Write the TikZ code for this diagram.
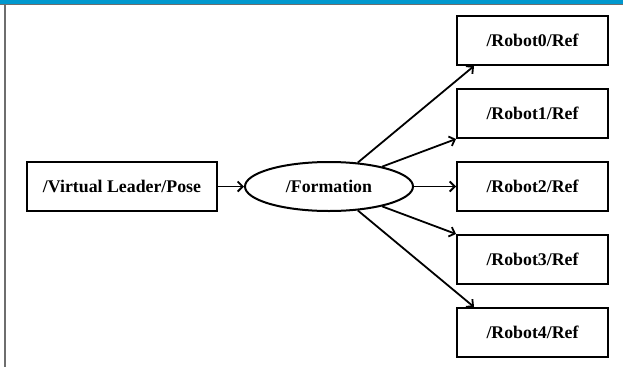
\documentclass[tikz,border=0pt]{standalone}
\usepackage{fontspec}
\setmainfont{Liberation Serif}
\usetikzlibrary{arrows.meta, calc, shapes.geometric}
\definecolor{barblue}{RGB}{0,152,206}
\definecolor{framegray}{RGB}{110,110,110}

\begin{document}
\begin{tikzpicture}[
  x=1pt, y=-1pt,
  every node/.style={font=\fontsize{17.8}{21}\selectfont\bfseries},
  topic/.style={draw, line width=2pt, minimum width=151pt, minimum height=49pt, inner sep=0pt},
  leadsty/.style={topic, minimum width=190pt},
  nodesty/.style={draw, ellipse, line width=2pt, minimum width=168pt, minimum height=49pt, inner sep=0pt},
  arr/.style={line width=1.8pt, -{Straight Barb[length=5pt,width=10pt,line width=1.8pt]}}
]
%general params
\def\rx{532.5} %robot column
\def\gap{73}   %robot spacing
\def\midy{186.5}

\useasboundingbox (0,0) rectangle (623,367);

% frame
\fill[barblue] (0,0) rectangle (623,4);
\draw[framegray, line width=0.8pt] (0,4.6) -- (623,4.6);
\fill[framegray] (3.6,5) rectangle (5.6,367);

  \node[leadsty] (VL) at (122,\midy) {/Virtual Leader/Pose};
  \node[nodesty] (F)  at (329,\midy) {/Formation};

  \node[topic] (R0) at (\rx,\midy-2*\gap) {/Robot0/Ref};
  \node[topic] (R1) at (\rx,\midy-\gap)   {/Robot1/Ref};
  \node[topic] (R2) at (\rx,\midy)        {/Robot2/Ref};
  \node[topic] (R3) at (\rx,\midy+\gap)   {/Robot3/Ref};
  \node[topic] (R4) at (\rx,\midy+2*\gap) {/Robot4/Ref};

  \draw[arr] (VL) -- (F);
  \draw[arr] (F) -- ($(R0.south west)+(18,0)$);
  \draw[arr] (F) -- (R1.south west);
  \draw[arr] (F) -- (R2);
  \draw[arr] (F) -- (R3.north west);
  \draw[arr] (F) -- ($(R4.north west)+(18,0)$);

\end{tikzpicture}
\end{document}
